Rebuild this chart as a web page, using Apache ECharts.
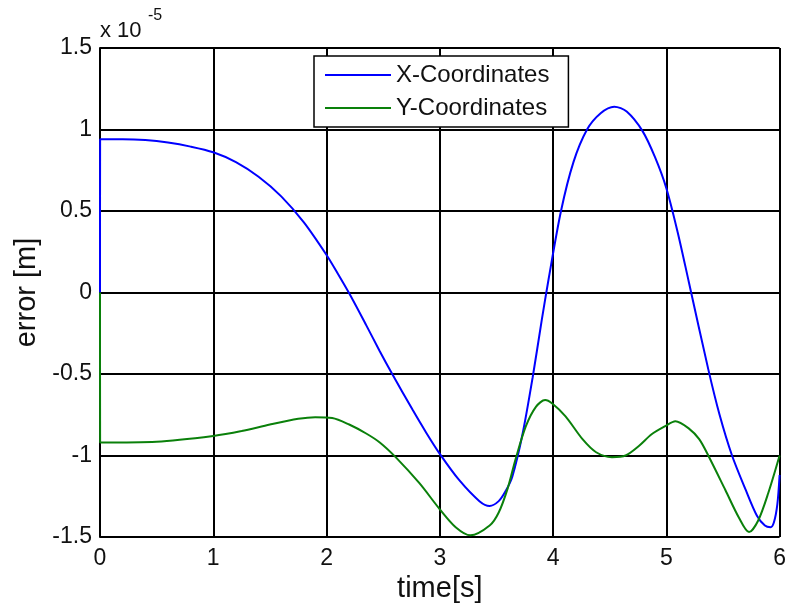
<!DOCTYPE html>
<html>
<head>
<meta charset="utf-8">
<script src="https://cdn.jsdelivr.net/npm/echarts@6/dist/echarts.min.js"></script>
<style>html,body{margin:0;padding:0;background:#fff}#c{width:789px;height:609px}</style>
</head>
<body>
<div id="c"></div>
<script>
// values in units of 1e-5 m
var tX = [0, 0.001, 0.2, 0.4, 0.6, 0.8, 1.0, 1.2, 1.4, 1.6, 1.8, 2.0, 2.1, 2.2, 2.35, 2.47, 2.58, 2.76, 2.88, 3.0, 3.17, 3.35, 3.44, 3.52, 3.58, 3.64, 3.73, 3.82, 3.9, 3.96, 4.07, 4.18, 4.3, 4.42, 4.54, 4.65, 4.79, 4.9, 5.0, 5.1, 5.2, 5.37, 5.47, 5.58, 5.7, 5.8, 5.87, 5.92, 5.95, 5.98, 6.0];
var vX = [0, 0.94, 0.94, 0.935, 0.92, 0.895, 0.86, 0.8, 0.71, 0.59, 0.43, 0.23, 0.115, -0.005, -0.2, -0.36, -0.5, -0.72, -0.86, -0.99, -1.15, -1.28, -1.31, -1.28, -1.22, -1.13, -0.87, -0.52, -0.17, 0.08, 0.5, 0.8, 1.0, 1.1, 1.14, 1.11, 0.99, 0.83, 0.64, 0.37, 0.06, -0.47, -0.75, -1.0, -1.21, -1.37, -1.43, -1.44, -1.41, -1.3, -1.12];
var tY = [0, 0.001, 0.5, 1.0, 1.25, 1.5, 1.75, 1.9, 2.05, 2.2, 2.35, 2.47, 2.61, 2.82, 3.0, 3.14, 3.27, 3.44, 3.52, 3.6, 3.67, 3.76, 3.85, 3.93, 3.99, 4.11, 4.26, 4.38, 4.52, 4.64, 4.76, 4.87, 4.99, 5.08, 5.2, 5.29, 5.37, 5.52, 5.64, 5.73, 5.81, 5.9, 6.0];
var vY = [0, -0.92, -0.915, -0.88, -0.85, -0.81, -0.775, -0.765, -0.77, -0.81, -0.865, -0.92, -1.01, -1.17, -1.33, -1.44, -1.49, -1.43, -1.35, -1.2, -1.02, -0.82, -0.7, -0.66, -0.68, -0.76, -0.9, -0.98, -1.01, -1.0, -0.94, -0.87, -0.82, -0.79, -0.835, -0.9, -1.0, -1.21, -1.38, -1.47, -1.4, -1.23, -1.0];
var seriesNames = ['X-Coordinates', 'Y-Coordinates'];
var xTitle = 'time[s]';
var yTitle = 'error [m]';
var scaleBase = 'x 10';
var scaleExp = '-5';

function pairs(t, v) { return t.map(function (x, i) { return [x, v[i]]; }); }

var FONT = 'Liberation Sans, Arial, sans-serif';
var TXT = '#111';
var chart = echarts.init(document.getElementById('c'));
chart.setOption({
  animation: false,
  backgroundColor: '#fff',
  grid: { left: 100, right: 8, top: 48, bottom: 72, containLabel: false },
  xAxis: {
    type: 'value', min: 0, max: 6, interval: 1,
    name: xTitle, nameLocation: 'middle', nameGap: 37,
    nameTextStyle: { fontSize: 29, color: TXT, fontFamily: FONT },
    axisLine: { show: true, lineStyle: { color: '#000', width: 2 } },
    axisTick: { show: false },
    axisLabel: { fontSize: 23, color: TXT, fontFamily: FONT, margin: 10 },
    splitLine: { show: true, lineStyle: { color: '#000', width: 2 } }
  },
  yAxis: {
    type: 'value', min: -1.5, max: 1.5, interval: 0.5,
    name: yTitle, nameLocation: 'middle', nameGap: 57,
    nameTextStyle: { fontSize: 29, color: TXT, fontFamily: FONT },
    axisLine: { show: true, lineStyle: { color: '#000', width: 2 } },
    axisTick: { show: false },
    axisLabel: { fontSize: 23, color: TXT, fontFamily: FONT, margin: 8 },
    splitLine: { show: true, lineStyle: { color: '#000', width: 2 } }
  },
  legend: {
    orient: 'vertical', left: 314, top: 56,
    data: seriesNames,
    icon: 'rect',
    backgroundColor: '#fff', borderColor: '#000', borderWidth: 1.5,
    padding: [7, 19, 7, 11], itemGap: 9,
    itemWidth: 66, itemHeight: 2,
    textStyle: { fontSize: 24, color: TXT, fontFamily: FONT, lineHeight: 24 }
  },
  graphic: [
    { type: 'text', x: 100, y: 31,
      style: { text: scaleBase, fontSize: 22, fontFamily: FONT, fill: TXT, verticalAlign: 'middle', align: 'left' } },
    { type: 'text', x: 148, y: 16,
      style: { text: scaleExp, fontSize: 16, fontFamily: FONT, fill: TXT, verticalAlign: 'middle', align: 'left' } }
  ],
  series: [
    { name: seriesNames[0], type: 'line', data: pairs(tX, vX), smooth: 0.3, symbol: 'none',
      lineStyle: { color: '#0000ff', width: 2 }, itemStyle: { color: '#0000ff' } },
    { name: seriesNames[1], type: 'line', data: pairs(tY, vY), smooth: 0.3, symbol: 'none',
      lineStyle: { color: '#0a800a', width: 2 }, itemStyle: { color: '#0a800a' } }
  ]
});
</script>
</body>
</html>
